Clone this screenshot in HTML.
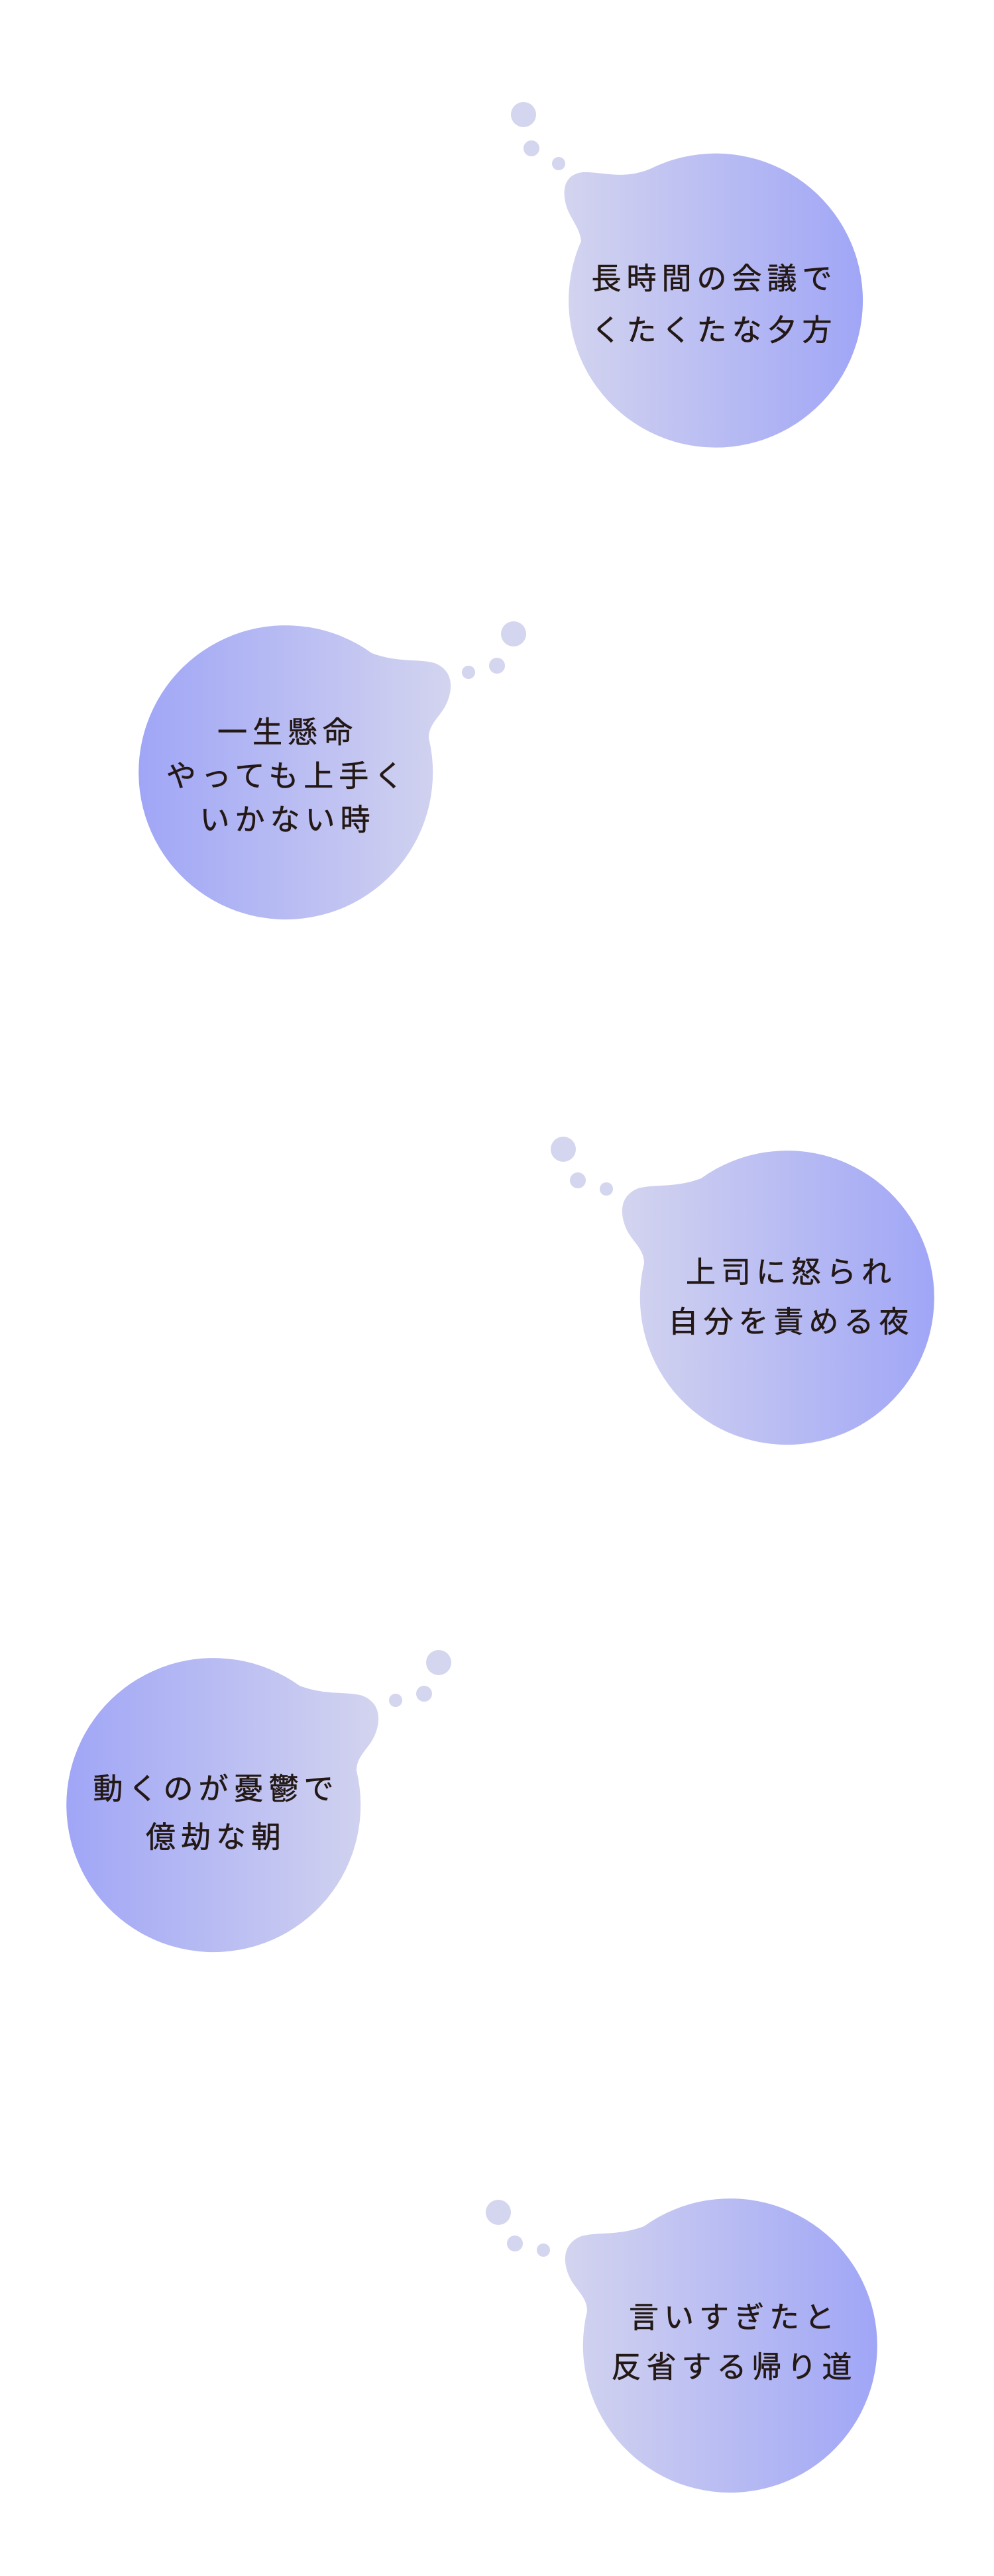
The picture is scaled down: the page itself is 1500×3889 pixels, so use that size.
<!DOCTYPE html>
<html><head><meta charset="utf-8"><style>
html,body{margin:0;padding:0;background:#fff;}
svg{display:block;}
text{font-family:"Liberation Sans","Noto Sans CJK JP",sans-serif;font-size:45px;fill:#231815;letter-spacing:8px;stroke:#231815;stroke-width:0.6px;}
</style></head><body>
<svg width="1500" height="3889" viewBox="0 0 1500 3889" xmlns="http://www.w3.org/2000/svg">
<defs>
<linearGradient id="gl" x1="0" y1="0" x2="1" y2="0"><stop offset="0" stop-color="#d3d4ef"/><stop offset="1" stop-color="#a0a6f6"/></linearGradient>
</defs>
<g fill="#d4d5ee">
<circle cx="790" cy="173" r="19"/><circle cx="802" cy="224" r="12"/><circle cx="843" cy="247" r="10"/>
<circle cx="775" cy="957" r="19"/><circle cx="750" cy="1005" r="12"/><circle cx="707" cy="1015" r="10"/>
<circle cx="850" cy="1735" r="19"/><circle cx="872" cy="1782" r="12"/><circle cx="915" cy="1795" r="10"/>
<circle cx="662" cy="2510" r="19"/><circle cx="640" cy="2557" r="12"/><circle cx="597" cy="2567" r="10"/>
<circle cx="752" cy="3340" r="19"/><circle cx="777" cy="3387" r="12"/><circle cx="820" cy="3397" r="10"/>
</g>
<path transform="translate(1080,455)" fill="url(#gl)" d="M -99,-200 C -140,-183 -170,-196 -200,-195 C -232,-192 -232,-162 -224,-140 C -216,-120 -205,-110 -203,-91 A 222 222 0 1 0 -99,-200 Z"/>
<path transform="translate(431,1166) scale(-1,1)" fill="url(#gl)" d="M -130,-180 C -170,-165 -200,-172 -225,-165 C -262,-150 -248,-110 -238,-95 C -228,-80 -216,-70 -216,-52 A 222 222 0 1 0 -130,-180 Z"/>
<path transform="translate(1188,1959)" fill="url(#gl)" d="M -130,-180 C -170,-165 -200,-172 -225,-165 C -262,-150 -248,-110 -238,-95 C -228,-80 -216,-70 -216,-52 A 222 222 0 1 0 -130,-180 Z"/>
<path transform="translate(322,2725) scale(-1,1)" fill="url(#gl)" d="M -130,-180 C -170,-165 -200,-172 -225,-165 C -262,-150 -248,-110 -238,-95 C -228,-80 -216,-70 -216,-52 A 222 222 0 1 0 -130,-180 Z"/>
<path transform="translate(1102,3541)" fill="url(#gl)" d="M -130,-180 C -170,-165 -200,-172 -225,-165 C -262,-150 -248,-110 -238,-95 C -228,-80 -216,-70 -216,-52 A 222 222 0 1 0 -130,-180 Z"/>
<g text-anchor="middle">
<text x="1078" y="436">長時間の会議で</text>
<text x="1078" y="514">くたくたな夕方</text>
<text x="434" y="1121">一生懸命</text>
<text x="434" y="1187">やっても上手く</text>
<text x="434" y="1253">いかない時</text>
<text x="1194" y="1936">上司に怒られ</text>
<text x="1194" y="2011">自分を責める夜</text>
<text x="326" y="2716">動くのが憂鬱で</text>
<text x="326" y="2789">億劫な朝</text>
<text x="1108" y="3514">言いすぎたと</text>
<text x="1108" y="3589">反省する帰り道</text>
</g>
</svg>
</body></html>
